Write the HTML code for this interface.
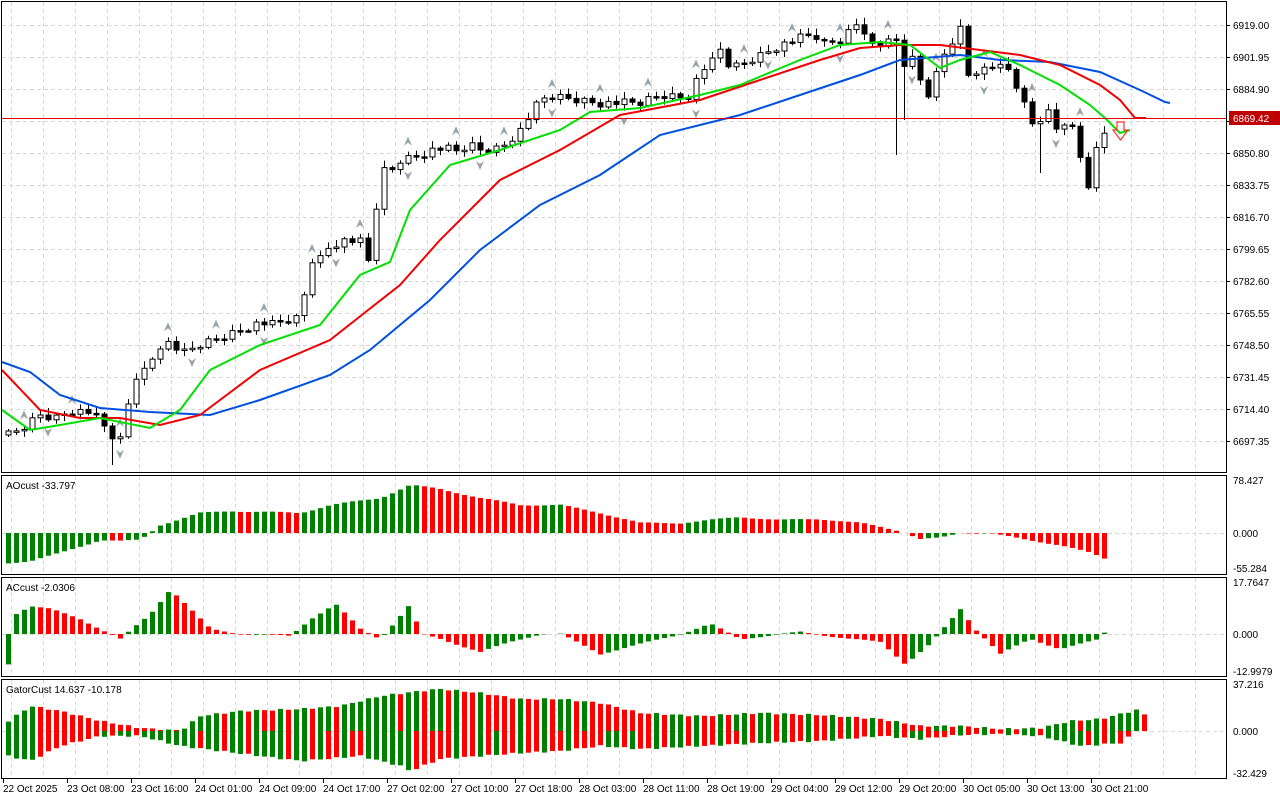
<!DOCTYPE html>
<html><head><meta charset="utf-8">
<style>
html,body{margin:0;padding:0;background:#fff;}
body{width:1280px;height:800px;overflow:hidden;font-family:"Liberation Sans",sans-serif;}
svg text{font-family:"Liberation Sans",sans-serif;font-size:10px;fill:#000;}
</style></head><body>
<svg id="s" width="1280" height="800" xmlns="http://www.w3.org/2000/svg">
<rect x="0" y="0" width="1280" height="800" fill="#fff"/>
<g id="grid"></g>
<g id="ser"></g>
<g fill="none" stroke="#000" stroke-width="1">
<rect x="1.5" y="1.5" width="1225" height="471"/>
<rect x="1.5" y="475.5" width="1225" height="99"/>
<rect x="1.5" y="577.5" width="1225" height="99"/>
<rect x="1.5" y="679.5" width="1225" height="99"/>
</g>
<line x1="2" y1="118.5" x2="1226" y2="118.5" stroke="#e00000" stroke-width="1"/>
<g id="ticks" stroke="#000"></g>
<text x="1233" y="29">6919.00</text>
<text x="1233" y="61">6901.95</text>
<text x="1233" y="93">6884.90</text>
<text x="1233" y="157">6850.80</text>
<text x="1233" y="189">6833.75</text>
<text x="1233" y="221">6816.70</text>
<text x="1233" y="253">6799.65</text>
<text x="1233" y="285">6782.60</text>
<text x="1233" y="317">6765.55</text>
<text x="1233" y="349">6748.50</text>
<text x="1233" y="381">6731.45</text>
<text x="1233" y="413">6714.40</text>
<text x="1233" y="445">6697.35</text>
<rect x="1229" y="111" width="51" height="14" fill="#c00000"/>
<text x="1233" y="122" style="fill:#fff">6869.42</text>
<text x="1233" y="484">78.427</text>
<text x="1233" y="537">0.000</text>
<text x="1233" y="572">-55.284</text>
<text x="1233" y="586">17.7647</text>
<text x="1233" y="638">0.000</text>
<text x="1233" y="675">-12.9979</text>
<text x="1233" y="688">37.216</text>
<text x="1233" y="735">0.000</text>
<text x="1233" y="777">-32.429</text>
<text x="6" y="489">AOcust -33.797</text>
<text x="6" y="591">ACcust -2.0306</text>
<text x="6" y="693">GatorCust 14.637 -10.178</text>
<g id="tl"></g>
</svg>
<script>
(function(){
var NS="http://www.w3.org/2000/svg";
function el(p,t,a){var e=document.createElementNS(NS,t);for(var k in a)e.setAttribute(k,a[k]);p.appendChild(e);return e;}
function interp(pts,x){if(x<=pts[0][0])return pts[0][1];for(var i=1;i<pts.length;i++){if(x<=pts[i][0]){var a=pts[i-1],b=pts[i];return a[1]+(b[1]-a[1])*(x-a[0])/(b[0]-a[0]);}}return pts[pts.length-1][1];}
var G=document.getElementById('grid'),S=document.getElementById('ser'),T=document.getElementById('ticks'),TL=document.getElementById('tl');
for(var x=11;x<1226;x+=32){[[2,472],[476,574],[578,676],[680,778]].forEach(function(r){el(G,'line',{x1:x+.5,y1:r[0],x2:x+.5,y2:r[1],stroke:'#d8d8d8','stroke-dasharray':'4,3'});});}
for(var y=25;y<472;y+=32){el(G,'line',{x1:2,y1:y+.5,x2:1226,y2:y+.5,stroke:'#d8d8d8','stroke-dasharray':'4,3'});el(T,'line',{x1:1226,y1:y+.5,x2:1230,y2:y+.5});}
[533,634,731].forEach(function(y){el(G,'line',{x1:2,y1:y+.5,x2:1226,y2:y+.5,stroke:'#d8d8d8','stroke-dasharray':'4,3'});});
var labs=["22 Oct 2025","23 Oct 08:00","23 Oct 16:00","24 Oct 01:00","24 Oct 09:00","24 Oct 17:00","27 Oct 02:00","27 Oct 10:00","27 Oct 18:00","28 Oct 03:00","28 Oct 11:00","28 Oct 19:00","29 Oct 04:00","29 Oct 12:00","29 Oct 20:00","30 Oct 05:00","30 Oct 13:00","30 Oct 21:00"];
labs.forEach(function(l,i){var t=el(TL,'text',{x:3+64*i,y:792});t.textContent=l;el(T,'line',{x1:3+64*i+.5,y1:779,x2:3+64*i+.5,y2:783});});
var C=[[8,435],[20,430],[40,415],[55,418],[70,410],[90,412],[100,422],[115,440],[125,440],[130,380],[145,370],[160,345],[172,342],[180,355],[200,345],[240,330],[260,322],[270,325],[290,320],[300,318],[310,260],[320,258],[330,245],[345,240],[360,242],[365,260],[370,262],[380,170],[390,172],[400,160],[420,155],[430,150],[445,148],[455,152],[470,145],[480,150],[500,148],[520,130],[540,100],[550,97],[565,98],[600,103],[620,103],[640,103],[660,95],[680,97],[690,95],[700,70],[710,65],[720,50],[730,68],[740,65],[760,55],[780,45],[800,38],[815,35],[820,45],[840,40],[860,20],[870,45],[880,45],[900,40],[905,70],[915,55],[922,90],[930,95],[940,60],[955,35],[962,25],[970,90],[980,70],[990,65],[1010,70],[1020,95],[1035,130],[1045,105],[1052,120],[1060,135],[1070,120],[1080,155],[1090,200],[1098,130]];
var prev=435;
for(var i=0;i<138;i++){var x=8+8*i;var c=interp(C,x)+((i*37)%11-5)*0.8;var o=prev;var hi=Math.min(o,c)-2-((i*13)%6),lo=Math.max(o,c)+2+((i*7)%5);
if(x==896){lo=155;} if(x==1040){lo=173;} if(x==904){lo=120;}
if(x==112){lo=465;}
el(S,'line',{x1:x+.5,y1:hi,x2:x+.5,y2:lo,stroke:'#000'});
var up=c<o;var tp=Math.min(o,c),h=Math.max(Math.abs(o-c),1.5);
el(S,'rect',{x:x-2,y:tp,width:5,height:h,fill:up?'#fff':'#000',stroke:'#000','stroke-width':1});
if(i%6==2&&x<1100){el(S,'path',{d:'M'+(x-4)+' '+(hi-6)+'l4 -9l4 9l-4 -3z',fill:'#9aa0a8'});}
if(i%9==5&&x<1100){el(S,'path',{d:'M'+(x-4)+' '+(lo+6)+'l4 9l4 -9l-4 3z',fill:'#9aa0a8'});}
prev=c;}
function line(pts,col){var d='';pts.forEach(function(p,i){d+=(i?'L':'M')+p[0]+' '+p[1];});el(S,'path',{d:d,fill:'none',stroke:col,'stroke-width':2});}
line([[2,362],[30,372],[60,395],[100,408],[150,412],[210,415],[260,400],[330,375],[370,350],[430,300],[480,250],[540,205],[600,175],[660,135],[740,115],[800,95],[860,75],[900,60],[960,55],[1000,60],[1050,62],[1100,72],[1140,90],[1165,102],[1170,103]],'#0050e0');
line([[2,370],[40,410],[80,418],[120,418],[160,425],[200,415],[260,370],[330,340],[400,285],[440,240],[500,180],[560,150],[620,115],[700,100],[760,80],[820,60],[860,48],[900,45],[940,45],[980,50],[1020,55],[1060,65],[1100,85],[1120,100],[1135,118],[1146,118]],'#f00000');
line([[2,410],[30,430],[60,425],[100,418],[150,428],[180,410],[210,370],[260,345],[320,325],[360,275],[390,262],[410,210],[450,165],[500,150],[560,130],[590,112],[640,108],[700,95],[740,85],[800,60],[840,45],[880,42],[910,45],[940,68],[960,60],[990,52],[1020,65],[1060,85],[1090,105],[1105,118],[1120,133],[1130,130]],'#00e000');
el(S,'path',{d:'M1117 122h7v8h4l-7.5 10l-7.5 -10h4z',fill:'none',stroke:'#ff3030','stroke-width':1.2});
function hist(pts,zero,xmax){var pv=null;for(var x=8;x<=xmax;x+=8){var v=interp(pts,x)+Math.sin(x*0.7)*0.6;var col=(pv===null||v>pv)?'#008000':'#ff0000';var h=Math.abs(v);if(h>0.3)el(S,'rect',{x:x-2,y:v>0?zero-v:zero,width:5,height:h,fill:col});pv=v;}}
hist([[8,-30],[30,-28],[60,-20],[100,-7],[120,-8],[140,-7],[160,8],[180,14],[200,20],[230,22],[300,20],[330,28],[380,35],[410,48],[440,44],[480,35],[520,28],[560,28],[600,20],[640,10],[680,10],[740,16],[780,13],[820,14],[860,10],[900,2],[920,-6],[940,-5],[960,0],[990,0],[1020,-6],[1060,-12],[1090,-20],[1105,-26]],533,1105);
hist([[8,-30],[15,20],[30,28],[50,25],[80,15],[100,5],[120,-5],[150,20],[170,45],[190,25],[210,5],[240,0],[290,-2],[310,15],[335,30],[360,5],[380,-5],[410,30],[420,0],[440,-5],[480,-18],[510,-8],[540,0],[560,0],[600,-20],[640,-10],[680,0],[710,10],[740,-5],[800,2],[850,-5],[880,-8],[905,-30],[930,-10],[960,25],[975,5],[1000,-20],[1030,-5],[1060,-15],[1100,-5],[1105,3]],634,1105);
function gator(pts,zero,sign,xmax){var pv=null;for(var x=8;x<=xmax;x+=8){var v=Math.max(1,interp(pts,x)+Math.sin(x*0.5)*0.8);var col=(pv===null||v>pv)?'#008000':'#ff0000';el(S,'rect',{x:x-2,y:sign>0?zero-v:zero,width:5,height:v,fill:col});pv=v;}}
gator([[8,10],[30,25],[60,20],[100,10],[140,3],[180,0],[200,15],[240,20],[300,22],[340,25],[380,35],[420,40],[440,42],[480,38],[520,32],[560,32],[600,28],[640,18],[700,15],[760,18],[820,16],[880,12],[920,5],[960,5],[1000,2],[1040,3],[1070,10],[1100,12],[1140,22],[1145,15]],731,1,1145);
gator([[8,25],[30,30],[60,15],[100,5],[140,5],[180,15],[220,20],[300,30],[360,25],[400,35],[410,40],[440,28],[480,25],[520,22],[560,20],[600,15],[640,18],[700,15],[760,12],[820,10],[880,5],[920,8],[960,4],[1000,3],[1040,5],[1060,10],[1080,15],[1120,12],[1130,5]],731,-1,1130);
})();
</script>
</body></html>
